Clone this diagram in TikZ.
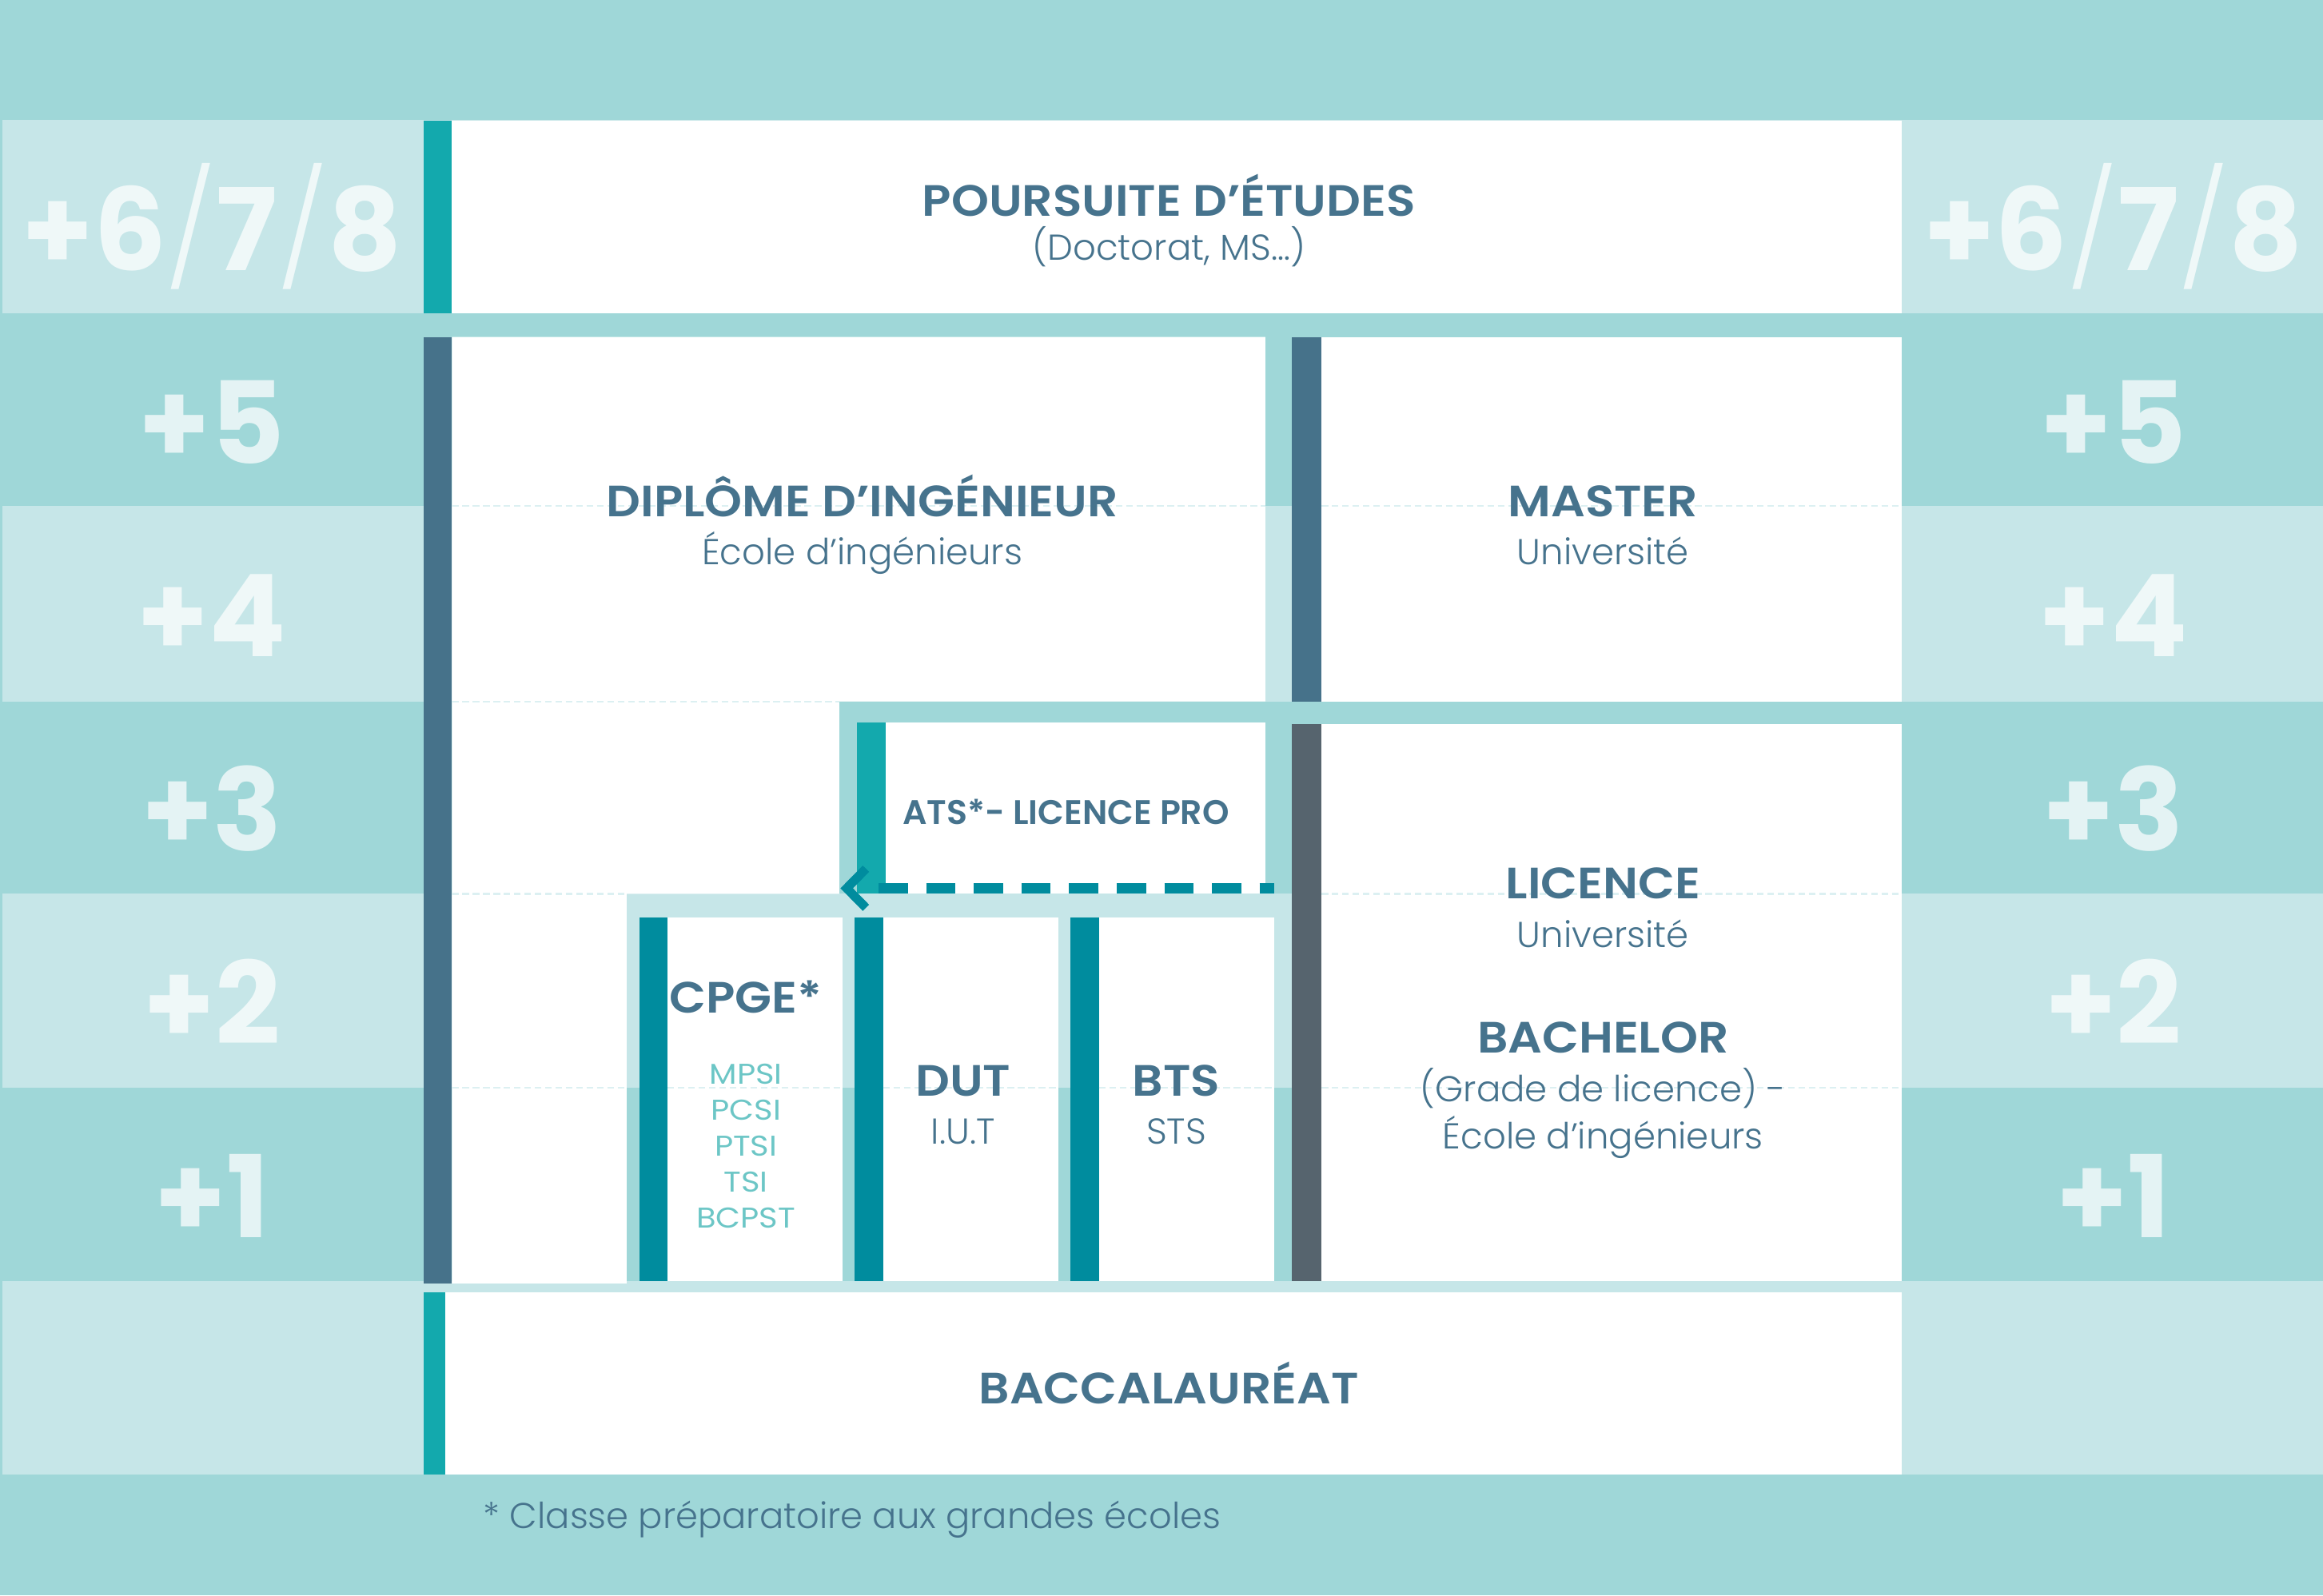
\documentclass[tikz,border=0pt]{standalone}
\usepackage{fontspec}
\setmainfont{Poppins}
\newfontfamily\popsemi{Poppins SemiBold}[FakeStretch=1.09]
\newfontfamily\popsemiN{Poppins SemiBold}
\newfontfamily\poplight{Poppins Light}
\newfontfamily\popbold{Poppins Bold}
\newfontfamily\popsubj{Poppins}[FakeStretch=1.12]
\definecolor{bandD}{HTML}{9FD7D8}
\definecolor{bandL}{HTML}{C6E6E8}
\definecolor{barTeal}{HTML}{13A9AD}
\definecolor{barSlate}{HTML}{46728A}
\definecolor{barGray}{HTML}{56646E}
\definecolor{barDeep}{HTML}{008C9E}
\definecolor{txt}{HTML}{46738D}
\definecolor{subjc}{HTML}{6CC6C6}
\definecolor{faint}{HTML}{DCF0F2}
\tikzset{
  ttl/.style={inner sep=0pt, anchor=base, text=txt, font=\popsemi\fontsize{29.6}{32}\selectfont},
  subt/.style={inner sep=0pt, anchor=base, text=txt, font=\poplight\fontsize{24.3}{32}\selectfont},
  atsl/.style={inner sep=0pt, anchor=base, text=txt, font=\popsemiN\fontsize{23}{28}\selectfont},
  subj/.style={inner sep=0pt, anchor=base, text=subjc, font=\popsubj\fontsize{19.3}{24}\selectfont},
  lbl/.style={inner sep=0pt, anchor=base, text=white, text opacity=0.72, font=\popbold\fontsize{77}{80}\selectfont},
  foot/.style={inner sep=0pt, anchor=base west, text=txt, font=\poplight\fontsize{24.2}{30}\selectfont},
  faintline/.style={draw=faint, line width=1.1pt, dash pattern=on 4.5pt off 2.5pt},
  dashline/.style={draw=barDeep, line width=7pt, dash pattern=on 19.75pt off 12.4pt},
  chevron/.style={draw=barDeep, line width=6pt, miter limit=10}
}
\begin{document}
\begin{tikzpicture}[x=1pt,y=-1pt]
\useasboundingbox (0,0) rectangle (1568,1077);
% background bands
\fill[bandD] (0,0) rectangle (1568,1077);
\foreach \a/\b in {81/211.6, 341.7/473.5, 603.5/734.5, 864.8/995.5}
  \fill[bandL] (1.7,\a) rectangle (1568,\b);
% Poursuite
\fill[white] (305,81.5) rectangle (1283.7,211.6);
\fill[barTeal] (286,81.5) rectangle (305,211.6);
% Diplome (L shape)
\fill[white] (305,227.5) -- (854,227.5) -- (854,473.5) -- (566.5,473.5) -- (566.5,603.5)
  -- (423,603.5) -- (423,866.5) -- (305,866.5) -- cycle;
\fill[barSlate] (286,227.5) rectangle (305,866.5);
% Master
\fill[white] (892,227.5) rectangle (1283.7,474);
\fill[barSlate] (872,227.5) rectangle (892,474);
% ATS
\fill[white] (597.8,487.5) rectangle (854,603.5);
\fill[barTeal] (578.5,487.5) rectangle (597.8,603.5);
% Licence
\fill[white] (892,489) rectangle (1283.7,864.8);
\fill[barGray] (872,489) rectangle (892,864.8);
% CPGE / DUT / BTS
\fill[white] (450.6,619.5) rectangle (568.7,864.8);
\fill[barDeep] (431.5,619.5) rectangle (450.6,864.8);
\fill[white] (596,619.5) rectangle (714.5,864.8);
\fill[barDeep] (576.8,619.5) rectangle (596,864.8);
\fill[white] (741.7,619.5) rectangle (860,864.8);
\fill[barDeep] (722.5,619.5) rectangle (741.7,864.8);
% Bac
\fill[white] (300.5,872.5) rectangle (1283.7,995.5);
\fill[barTeal] (286,872.5) rectangle (300.5,995.5);
% faint band lines inside white boxes
\foreach \y/\x/\X in {341.7/305/854, 341.7/892/1283.7, 473.5/305/566.5,
  603.5/305/423, 603.5/892/1283.7, 734.5/305/423, 734.5/450.6/568.7,
  734.5/596/714.5, 734.5/741.7/860, 734.5/892/1283.7}
  \draw[faintline] (\x,\y) -- (\X,\y);
% arrow from ATS back to the first-years block
\coordinate (atsR) at (860,599.7);
\coordinate (atsL) at (593,599.7);
\coordinate (chevA) at (584.5,586.5);
\coordinate (chevT) at (571.5,599.7);
\coordinate (chevB) at (584.5,612.9);
\draw[dashline] (atsL) -- (atsR);
\draw[chevron] (chevA) -- (chevT) -- (chevB);
% texts
\node[ttl] (pour) at (789,145.7) {POURSUITE D’ÉTUDES};
\node[subt] (pours) at (789,175.4) {(Doctorat, MS…)};
\node[ttl] (dipl) at (582,349) {DIPLÔME D’INGÉNIEUR};
\node[subt] (dipls) at (582,381.3) {École d’ingénieurs};
\node[ttl] (mast) at (1082,349) {MASTER};
\node[subt] (masts) at (1082,381.3) {Université};
\node[atsl] (ats) at (719.5,556.7) {ATS*- LICENCE PRO};
\node[ttl] (lic) at (1082,607) {LICENCE};
\node[subt] (lics) at (1082,639.4) {Université};
\node[ttl] (bach) at (1082,711) {BACHELOR};
\node[subt] (bachs1) at (1082,743.6) {(Grade de licence) -};
\node[subt] (bachs2) at (1082,775.4) {École d’ingénieurs};
\node[ttl] (cpge) at (503.5,683.8) {CPGE*};
\node[subj] (s1) at (503.5,732) {MPSI};
\node[subj] (s2) at (503.5,756.3) {PCSI};
\node[subj] (s3) at (503.5,780.6) {PTSI};
\node[subj] (s4) at (503.5,804.9) {TSI};
\node[subj] (s5) at (503.5,829.2) {BCPST};
\node[ttl] (dut) at (650,740.1) {DUT};
\node[subt] (duts) at (650,772.5) {I.U.T};
\node[ttl] (bts) at (794,740.1) {BTS};
\node[subt] (btss) at (794,772.5) {STS};
\node[ttl] (bac) at (789,948) {BACCALAURÉAT};
\node[foot] (fn) at (326,1032) {* Classe préparatoire aux grandes écoles};
% year labels
\foreach \nm/\x in {L/143, R/1426.5} {
  \node[lbl] (y678\nm) at (\x,182.5) {+6{\poplight/}7{\poplight/}8};
  \node[lbl] (y5\nm) at (\x,313) {+5};
  \node[lbl] (y4\nm) at (\x,443.5) {+4};
  \node[lbl] (y3\nm) at (\x,574.5) {+3};
  \node[lbl] (y2\nm) at (\x,705) {+2};
  \node[lbl] (y1\nm) at (\x,835.5) {+1};
}
\end{tikzpicture}
\end{document}
